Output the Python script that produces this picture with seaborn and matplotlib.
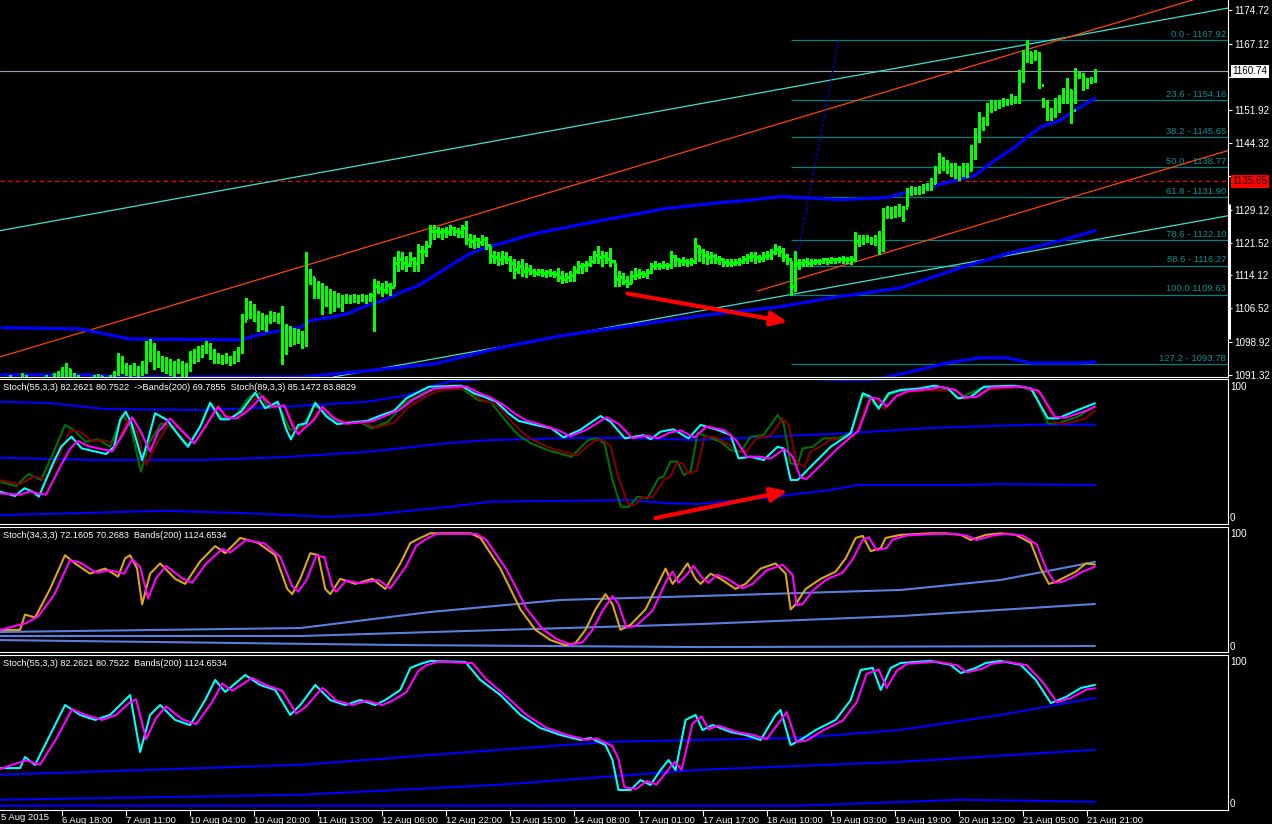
import matplotlib
matplotlib.use("Agg")
import matplotlib.pyplot as plt
import matplotlib.transforms as mtransforms
import seaborn as sns

sns.set_theme(style="dark", rc={"axes.facecolor": "black", "figure.facecolor": "black",
                                "axes.grid": False})
plt.rcParams["font.family"] = ["Liberation Sans", "DejaVu Sans"]

# ---------------- price bars (H1), one value per bar ----------------
bar_high = [
    1090.35, 1090.8, 1091.3, 1090.8, 1090.35, 1091.7, 1091.3, 1090.8, 1090.35, 1089.9,
    1090.6, 1091.3, 1090.8, 1091.7, 1092.2, 1093.1, 1094.0, 1092.6, 1091.7, 1091.3,
    1090.8, 1090.35, 1090.8, 1091.3, 1091.5, 1091.0, 1090.8, 1091.3, 1092.2, 1096.3,
    1095.6, 1094.0, 1093.6, 1094.0, 1093.3, 1094.5, 1099.1, 1099.5, 1098.6, 1096.8,
    1095.6, 1095.4, 1094.9, 1094.5, 1094.9, 1094.5, 1094.0, 1096.8, 1097.2, 1097.9,
    1098.1, 1099.1, 1098.6, 1097.2, 1096.3, 1095.9, 1096.3, 1095.6, 1096.8, 1097.7,
    1105.3, 1108.9, 1108.25, 1107.6, 1106.0, 1105.5, 1105.0, 1106.0, 1105.7, 1105.5,
    1107.1, 1103.0, 1102.5, 1102.1, 1101.8, 1101.4, 1119.3, 1115.6, 1113.5, 1112.8,
    1112.4, 1111.7, 1111.0, 1110.5, 1110.1, 1109.6, 1109.9, 1109.6, 1109.9, 1109.6,
    1109.9, 1109.6, 1110.1, 1113.3, 1112.8, 1112.4, 1112.8, 1112.4, 1118.35, 1119.7,
    1119.3, 1118.6, 1119.3, 1118.35, 1121.3, 1120.9, 1122.0, 1125.5, 1125.7, 1125.2,
    1124.8, 1125.2, 1125.7, 1125.2, 1124.8, 1125.5, 1126.6, 1123.6, 1123.2, 1122.7,
    1123.4, 1122.9, 1120.9, 1119.7, 1119.3, 1119.7, 1119.3, 1118.6, 1117.9, 1117.4,
    1117.9, 1117.0, 1116.5, 1115.6, 1115.6, 1115.6, 1115.4, 1115.6, 1115.1, 1115.8,
    1115.1, 1114.7, 1115.1, 1116.1, 1117.4, 1117.0, 1117.4, 1118.6, 1119.7, 1120.9,
    1119.7, 1119.3, 1120.4, 1117.0, 1115.1, 1114.7, 1114.0, 1115.1, 1115.8, 1115.6,
    1115.1, 1115.6, 1117.0, 1117.4, 1117.0, 1117.4, 1117.0, 1119.7, 1118.8, 1117.9,
    1118.35, 1117.9, 1118.1, 1122.7, 1120.9, 1120.2, 1119.7, 1119.3, 1119.0, 1118.6,
    1117.9, 1117.9, 1117.7, 1117.9, 1118.1, 1118.6, 1119.0, 1119.3, 1119.3, 1118.8,
    1119.3, 1119.7, 1120.2, 1121.3, 1120.9, 1120.4, 1119.0, 1117.4, 1119.7, 1117.9,
    1117.9, 1118.1, 1117.9, 1117.9, 1117.9, 1118.1, 1118.1, 1118.35, 1118.1, 1118.35,
    1118.6, 1118.35, 1118.6, 1123.9, 1123.4, 1123.2, 1123.4, 1122.9, 1123.2, 1124.3,
    1129.4, 1130.05, 1129.8, 1130.05, 1130.5, 1130.05, 1133.95, 1134.6, 1134.4, 1134.6,
    1134.9, 1135.1, 1136.25, 1139.2, 1142.0, 1141.1, 1140.4, 1139.9, 1139.7, 1139.2,
    1139.9, 1139.7, 1143.8, 1147.7, 1151.4, 1150.25, 1153.45, 1154.15, 1154.15, 1154.15,
    1154.6, 1154.4, 1155.5, 1155.1, 1161.0, 1165.6, 1167.92, 1165.2, 1165.6, 1165.2,
    1154.6, 1154.15, 1152.3, 1154.6, 1155.3, 1156.9, 1159.2, 1156.45, 1161.5, 1160.6,
    1160.35, 1159.2, 1159.4, 1161.2,
]
bar_low = [
    1087.6, 1088.1, 1088.5, 1088.1, 1087.6, 1088.75, 1088.5, 1088.1, 1087.6, 1087.1,
    1087.6, 1088.5, 1089.0, 1089.4, 1089.9, 1090.35, 1090.8, 1089.9, 1089.4, 1089.0,
    1088.5, 1088.1, 1088.5, 1089.0, 1089.4, 1089.0, 1088.5, 1089.0, 1089.9, 1091.3,
    1091.7, 1091.3, 1090.8, 1091.3, 1090.8, 1091.3, 1091.7, 1094.5, 1092.6, 1093.1,
    1092.2, 1091.7, 1091.3, 1091.0, 1091.7, 1090.8, 1091.0, 1092.2, 1094.0, 1094.5,
    1095.4, 1096.3, 1094.9, 1094.0, 1094.0, 1093.8, 1094.0, 1093.6, 1094.0, 1094.5,
    1096.3, 1104.1, 1104.4, 1103.7, 1101.4, 1101.8, 1101.4, 1103.2, 1103.7, 1103.2,
    1093.8, 1096.1, 1097.9, 1098.4, 1098.6, 1097.5, 1097.9, 1112.1, 1108.9, 1108.9,
    1105.3, 1107.1, 1105.5, 1106.0, 1106.9, 1106.0, 1107.8, 1107.8, 1108.0, 1107.8,
    1108.25, 1107.8, 1108.25, 1101.4, 1110.1, 1109.4, 1110.1, 1109.6, 1111.7, 1115.1,
    1115.6, 1115.1, 1116.1, 1115.1, 1115.1, 1117.0, 1118.6, 1121.3, 1122.5, 1122.9,
    1122.5, 1122.9, 1123.4, 1123.2, 1122.9, 1122.9, 1121.3, 1120.6, 1120.4, 1120.6,
    1121.1, 1120.2, 1117.0, 1117.0, 1116.5, 1116.7, 1117.0, 1115.1, 1113.5, 1114.7,
    1114.0, 1113.8, 1114.45, 1114.0, 1114.2, 1114.0, 1113.8, 1114.0, 1113.8, 1112.8,
    1112.4, 1112.6, 1112.8, 1112.8, 1114.7, 1114.7, 1115.1, 1116.1, 1117.0, 1117.0,
    1116.3, 1117.0, 1116.3, 1111.7, 1111.7, 1112.1, 1111.5, 1112.4, 1113.3, 1113.5,
    1113.8, 1113.5, 1114.7, 1115.6, 1115.6, 1115.8, 1115.6, 1115.8, 1116.1, 1116.3,
    1116.5, 1116.3, 1116.5, 1117.0, 1117.4, 1117.0, 1116.7, 1117.0, 1117.0, 1116.7,
    1116.3, 1116.1, 1116.3, 1116.5, 1116.5, 1117.0, 1117.0, 1117.4, 1117.0, 1117.2,
    1117.4, 1117.9, 1117.9, 1119.0, 1118.6, 1117.4, 1116.7, 1109.63, 1110.5, 1115.6,
    1116.1, 1116.1, 1116.1, 1116.7, 1116.7, 1117.0, 1116.7, 1117.0, 1117.0, 1117.2,
    1117.0, 1117.0, 1116.7, 1117.4, 1120.9, 1121.3, 1121.6, 1121.3, 1121.1, 1119.0,
    1119.7, 1127.1, 1127.3, 1127.5, 1127.7, 1126.6, 1130.05, 1132.35, 1132.6, 1132.8,
    1133.0, 1133.5, 1133.5, 1135.3, 1137.6, 1138.1, 1137.6, 1136.9, 1136.25, 1135.8,
    1136.9, 1136.5, 1138.1, 1140.8, 1144.5, 1147.3, 1148.4, 1151.4, 1151.85, 1152.3,
    1152.8, 1153.0, 1153.2, 1153.45, 1153.45, 1158.3, 1162.9, 1162.6, 1163.3, 1156.9,
    1152.5, 1149.6, 1149.6, 1150.25, 1151.4, 1153.45, 1153.45, 1148.9, 1153.45, 1159.2,
    1156.45, 1156.9, 1158.05, 1158.3,
]
bar_close = [
    1089.0, 1089.4, 1090.35, 1089.9, 1089.0, 1090.8, 1089.9, 1089.4, 1088.5, 1088.1,
    1089.4, 1090.35, 1089.9, 1090.8, 1091.3, 1092.2, 1092.6, 1091.3, 1090.8, 1090.35,
    1089.9, 1089.4, 1090.35, 1090.8, 1091.0, 1090.35, 1089.9, 1090.8, 1091.7, 1094.9,
    1093.1, 1092.6, 1092.2, 1093.1, 1092.2, 1093.6, 1096.8, 1097.9, 1095.6, 1094.5,
    1094.0, 1093.6, 1093.1, 1092.6, 1093.6, 1092.2, 1093.1, 1095.4, 1096.3, 1096.8,
    1097.2, 1097.7, 1096.8, 1095.6, 1095.2, 1094.9, 1095.4, 1094.7, 1095.9, 1096.8,
    1103.7, 1107.1, 1106.4, 1105.5, 1104.6, 1103.7, 1104.1, 1104.6, 1105.0, 1104.6,
    1097.9, 1101.4, 1100.2, 1100.9, 1100.0, 1099.1, 1115.1, 1113.8, 1111.7, 1110.5,
    1109.4, 1108.25, 1109.2, 1107.8, 1108.7, 1108.25, 1108.7, 1109.2, 1108.9, 1108.7,
    1109.2, 1108.9, 1109.6, 1111.7, 1111.2, 1110.8, 1111.9, 1111.5, 1117.0, 1117.9,
    1117.0, 1116.5, 1117.9, 1117.0, 1119.7, 1119.7, 1120.9, 1124.3, 1124.3, 1123.9,
    1124.3, 1123.9, 1124.8, 1124.3, 1123.9, 1124.8, 1122.5, 1122.0, 1122.5, 1121.6,
    1122.5, 1121.1, 1118.6, 1118.35, 1117.9, 1118.35, 1117.9, 1117.0, 1115.6, 1116.1,
    1115.1, 1115.6, 1115.1, 1114.7, 1115.1, 1114.7, 1114.9, 1114.7, 1114.45, 1113.8,
    1113.3, 1113.8, 1114.2, 1115.1, 1116.1, 1116.5, 1116.7, 1117.4, 1118.8, 1118.35,
    1118.6, 1117.9, 1117.4, 1113.3, 1113.8, 1112.8, 1112.4, 1114.0, 1114.2, 1114.7,
    1114.45, 1114.9, 1116.1, 1116.5, 1116.3, 1116.5, 1116.5, 1118.6, 1117.9, 1117.4,
    1117.4, 1117.2, 1117.4, 1120.9, 1119.7, 1118.8, 1118.35, 1118.6, 1117.9, 1117.9,
    1117.2, 1117.0, 1117.0, 1117.2, 1117.4, 1117.9, 1118.35, 1118.6, 1118.35, 1118.1,
    1118.6, 1118.8, 1119.3, 1120.2, 1119.7, 1118.6, 1117.9, 1111.7, 1117.0, 1117.0,
    1117.4, 1117.0, 1117.2, 1117.4, 1117.4, 1117.7, 1117.4, 1117.9, 1117.7, 1117.9,
    1117.9, 1117.7, 1117.9, 1122.0, 1122.5, 1122.5, 1122.7, 1122.0, 1122.0, 1120.9,
    1127.7, 1128.9, 1128.4, 1128.9, 1129.4, 1129.4, 1133.0, 1133.5, 1133.5, 1133.95,
    1133.95, 1134.4, 1135.3, 1138.1, 1139.2, 1139.9, 1138.5, 1139.0, 1137.6, 1138.1,
    1138.5, 1138.1, 1142.7, 1146.1, 1150.0, 1149.1, 1152.3, 1153.2, 1153.45, 1153.2,
    1153.7, 1153.9, 1154.6, 1154.15, 1159.9, 1164.5, 1165.2, 1164.25, 1164.7, 1157.6,
    1153.2, 1151.85, 1150.9, 1153.0, 1154.15, 1155.3, 1156.45, 1151.85, 1159.9, 1159.65,
    1158.7, 1158.3, 1158.7, 1160.74,
]

# moving averages on the price window (bar index, price)
ma_mid_x = [0, 19.5, 32, 59.5, 66, 74.5, 77, 83, 87, 91, 95, 99.5, 104, 108, 112, 116, 120,
            124.5, 133, 149.5, 166, 179.5, 186, 194.5, 210, 221, 228, 236, 243, 248, 253,
            256, 259.5, 264.5, 268, 273]
ma_mid_y = [1102.1, 1101.8, 1099.5, 1099.3, 1100.9, 1102.1, 1103.7, 1104.6, 1105.5, 1107.1,
            1108.25, 1110.1, 1111.7, 1114.0, 1116.3, 1118.6, 1120.2, 1121.3, 1123.6, 1126.6,
            1129.4, 1130.75, 1131.2, 1132.1, 1131.4, 1131.9, 1133.5, 1135.3, 1136.9, 1140.4,
            1143.4, 1145.7, 1148.0, 1149.6, 1151.85, 1154.6]
ma_low_x = [0, 20, 32, 74.5, 83, 91, 108, 124.5, 139.5, 162, 174.5, 194.5, 207, 224.5, 239.5,
            251, 264.5, 273]
ma_low_y = [1091.3, 1091.3, 1090.8, 1090.8, 1091.5, 1092.2, 1093.8, 1097.5, 1100.2, 1103.2,
            1104.8, 1106.9, 1108.9, 1111.2, 1115.8, 1119.0, 1122.0, 1124.3]
ma_env_x = [212, 221, 228, 236, 244.5, 251, 257, 269.5, 273]
ma_env_y = [1088.7, 1090.8, 1092.2, 1094.0, 1095.2, 1095.2, 1094.0, 1094.0, 1094.25]

# trend lines: (x0, x1), (p0, p1)
chan_up_x, chan_up_y = [-0.5, 306.5], [1124.3, 1175.3]
chan_dn_x, chan_dn_y = [82.75, 306.5], [1090.8, 1127.75]
red_up_x, red_up_y = [-0.5, 306.5], [1095.4, 1179.6]
red_dn_x, red_dn_y = [188.75, 306.5], [1110.5, 1142.7]
fib_trend_x, fib_trend_y = [197, 209], [1109.9, 1167.9]

fib_prices = [1167.92, 1154.16, 1145.65, 1138.77, 1131.90, 1122.10, 1116.27, 1109.63, 1093.78]
fib_labels = ["0.0 - 1167.92", "23.6 - 1154.16", "38.2 - 1145.65", "50.0 - 1138.77",
              "61.8 - 1131.90", "78.6 - 1122.10", "88.6 - 1116.27", "100.0 1109.63",
              "127.2 - 1093.78"]
fib_start = 197
last_price = 1160.74
alert_price = 1135.65

price_ticks = [1174.72, 1167.12, 1159.52, 1151.92, 1144.32, 1136.72, 1129.12, 1121.52,
               1114.12, 1106.52, 1098.92, 1091.32]
hidden_ticks = [1159.52, 1136.72]  # covered by the price boxes

time_idx = [15, 31, 47, 63, 79, 95, 111, 127, 143, 159, 175, 191, 207, 223, 239, 255, 271]
time_labels = ["6 Aug 18:00", "7 Aug 11:00", "10 Aug 04:00", "10 Aug 20:00", "11 Aug 13:00",
               "12 Aug 06:00", "12 Aug 22:00", "13 Aug 15:00", "14 Aug 08:00", "17 Aug 01:00",
               "17 Aug 17:00", "18 Aug 10:00", "19 Aug 03:00", "19 Aug 19:00", "20 Aug 12:00",
               "21 Aug 05:00", "21 Aug 21:00"]

# ---------------- window 2: Stoch(55) / Stoch(89) + bands ----------------
s89_x = [-0.5, 3.25, 5.6, 7.7, 9.2, 12.75, 14.75, 17.35, 19.9, 26, 28, 29.5, 30.9, 32.35, 35,
         36.45, 38.25, 41.25, 44.4, 46.45, 49.5, 52, 54.6, 56.65, 59.7, 63.25, 65.75, 68.9,
         70.9, 72.15, 74, 76, 78.25, 81.1, 83.7, 91.25, 94.9, 98, 101, 106.65, 114.75, 117.9,
         120.4, 123.5, 126.5, 129, 133.2, 137.25, 140.25, 144.4, 149.5, 152, 155.6, 160.25,
         162, 164.5, 167.75, 171.5, 174.5, 178.75, 182, 184, 187, 190.25, 193.75, 195.25, 197,
         198.75, 202, 207, 212, 215, 217, 219, 221.5, 224.5, 229.5, 232.75, 236.25, 238.75,
         242, 245.25, 252.75, 257, 261.25, 263.75, 268.75, 273]
s89_main = [19.3, 16, 21.9, 19.3, 15.5, 40.9, 53.5, 61.2, 52.3, 48, 53.5, 73.9, 80.2, 71.3,
            43.4, 58.6, 79, 73.9, 61.2, 53.5, 68.8, 87, 74.4, 74.4, 80.2, 94.7, 82.8, 87.8,
            67.5, 59.2, 70.1, 71.3, 87, 76.4, 70.8, 73.3, 77.7, 81, 90.4, 99.2, 100, 94.2,
            91.6, 87.8, 79, 73.3, 70.1, 67.5, 60.7, 66.3, 76.9, 72.6, 59.9, 62.4, 59.2, 65,
            66.8, 59.9, 70.1, 66.3, 62.4, 44.7, 45.9, 43.4, 53.5, 52.3, 28.2, 28.2, 38.3, 53.5,
            63.7, 94.2, 91.6, 82.8, 94.2, 96.7, 98, 100, 98, 90.4, 91.6, 99.2, 100, 98, 75.2,
            75.2, 81.5, 86.6]
s89_sig_x = [-0.5, 4.5, 7, 9, 11, 14.5, 17, 19, 21.5, 27.5, 30, 32.5, 34.5, 37, 39, 42, 45.5,
             48, 51, 54, 56, 58.5, 61.5, 65, 67.5, 70.5, 72.5, 74, 76, 78, 80, 83, 86, 92.5,
             96.5, 99.5, 102.5, 108, 116, 119.5, 122, 125, 128, 131, 135, 139, 142, 146, 151,
             154, 157.5, 161, 164, 166.5, 169.5, 173, 176, 180.5, 183.5, 186, 189, 192, 195.5,
             197.5, 199.5, 201, 204, 209, 214, 217, 219, 221, 223.5, 226.5, 231.5, 234.5, 238,
             240.5, 243.5, 247, 254.5, 259, 263, 265.5, 270.5, 273]
s89_sig = [18, 17, 19.5, 18, 17, 38, 52, 58, 54, 50, 62, 76, 66, 50, 65, 75, 64, 56, 70, 84,
           76, 75, 81, 92, 84, 85, 70, 63, 69, 74, 84, 75, 71, 73, 78, 82, 89, 98, 99.5, 94,
           91, 86, 79, 73.5, 70, 66, 61.5, 66.5, 76, 71, 60, 62, 60, 64, 66, 60.5, 69, 66, 58,
           46, 46, 44.5, 52, 46, 30, 29, 38, 53, 66, 91, 90, 84, 92.5, 96, 97.5, 99, 97, 91,
           91.5, 98.5, 99.5, 96, 76.5, 75.5, 80.5, 84]
s55_x = [-0.5, 3.5, 6.65, 9.7, 12.75, 15.75, 17.9, 20.9, 24, 27, 30.1, 32.15, 34.7, 36.75,
         39.75, 42.25, 46.45, 49.5, 52, 55.1, 58.2, 61.75, 64.25, 66.75, 68.9, 72, 75, 78,
         83.2, 89.25, 92.35, 96.45, 100.5, 106.65, 109.7, 114.75, 118.9, 122, 126, 129, 132.15,
         136.25, 142.25, 146.45, 148.5, 150.5, 152.5, 154.6, 156.65, 158.75, 161.25, 164,
         165.25, 167, 168.75, 170.25, 172, 173.75, 176.25, 179.5, 182, 184.5, 187, 190.25,
         193.75, 195.25, 197, 198.75, 200, 202.5, 205.25, 208.75, 212, 215, 217, 219, 221.5,
         224.5, 229.5, 237, 239, 244.5, 253.75, 257.75, 261.25, 263.75, 268.75, 273]
s55_main = [26.9, 23.6, 32.8, 28.2, 48.5, 70.1, 66.3, 57.3, 59.2, 53.5, 77.7, 68.8, 34.5,
            56.1, 71.3, 68.8, 54.8, 68.8, 86.6, 75.2, 76.4, 91.6, 94.2, 82.8, 86.6, 66.3, 68.8,
            85.3, 72.6, 72.6, 67.5, 72.6, 86.6, 96.7, 98, 98, 89, 87.8, 72.6, 62.4, 56.1, 51,
            45.9, 58.6, 59.9, 56.1, 28.2, 7.8, 7.8, 15.5, 14.2, 29.5, 30.7, 42.2, 42.2, 32.1,
            34.5, 63.9, 61.2, 57.3, 51, 49.7, 61.2, 62.4, 77.7, 71.3, 40.9, 39.6, 52.3, 53.5,
            59.9, 59.9, 63.7, 92.9, 90, 82, 93, 96, 97.3, 96.7, 90.4, 98, 100, 95.4, 71.3, 71.3,
            76.4, 84.5]
s55_sig_x = [-0.5, 4.5, 8, 11, 14, 17, 19.5, 22.5, 25.5, 28.5, 31.5, 33.5, 36, 38.5, 41.5, 44,
             48, 51, 53.5, 56.5, 59.5, 63, 65.5, 68, 70.5, 73.5, 76.5, 79.5, 84.5, 90.5, 93.5,
             98, 102, 108, 111, 116, 120, 123.5, 127.5, 130.5, 133.5, 137.5, 143.5, 148, 150,
             152, 154, 156.5, 158, 160, 162.5, 165.5, 167, 168.5, 170, 171.5, 173.5, 175.5, 178,
             181, 183.5, 186, 188.5, 192, 195, 196.5, 198.5, 200.5, 202, 204, 207, 210.5, 213.5,
             216.5, 218.5, 220.5, 223, 226, 231, 238.5, 240.5, 246, 255, 259.5, 263, 265.5,
             270.5, 273]
s55_sig = [28, 25, 31, 28.5, 45, 66, 65, 58, 58.5, 55, 74, 66, 40, 55, 70, 68, 56, 69, 84, 76,
           77, 90, 92, 83, 85, 67, 69, 83, 73, 72, 68, 72, 85, 95, 97, 97.5, 89, 86, 72, 63,
           57, 52, 47, 58, 59, 54, 30, 9, 9, 15, 15, 29, 31, 41, 41, 33, 35, 61, 61, 56, 51,
           50, 60, 62, 75, 70, 42, 38, 50, 53, 59, 59.5, 64, 89, 89, 82, 91, 95, 96.5, 96, 90,
           97, 99, 94, 72, 71, 75, 80.7]
b2_up_x = [-0.5, 11.75, 26, 50.5, 71, 91.25, 101.5, 106.75, 111.75, 124.5, 194.5, 209.5,
           216.25, 224.5, 273]
b2_up = [87.8, 86.8, 82.2, 81.4, 84, 87.8, 92.9, 99, 103.1, 106, 106, 104.3, 104.3, 106, 108]
b2_mid_x = [-0.5, 23, 50.5, 71, 91.25, 111.75, 122, 142.25, 157.5, 173.75, 190.25, 212, 232,
            248.75, 258.75, 273]
b2_mid = [45.2, 43.4, 43.4, 45.7, 49.7, 56.4, 58.6, 60.2, 60.2, 58.6, 60.9, 64, 67.8, 69.5,
          70.3, 70.3]
b2_lo_x = [-0.5, 20, 40.25, 60.75, 81.25, 91.25, 111.75, 122, 142.25, 157.5, 165.25, 173.75,
           190.25, 207, 213.75, 240.25, 248.75, 273]
b2_lo = [1.5, 3.0, 4.8, 3.0, 0.2, 1.5, 7.8, 11.7, 12.4, 12.9, 10.7, 9.9, 14.5, 20.6, 24.4,
         24.4, 25.1, 24.4]

# ---------------- window 3: Stoch(34,3,3) + bands ----------------
s34_x = [-0.5, 4.5, 5.75, 8.25, 12, 15.75, 18.25, 22, 25.75, 29, 30.75, 32, 33.75, 35, 37,
         39.5, 43.25, 45.75, 49.5, 53.25, 55.75, 59.5, 64, 68.25, 71.25, 72.5, 74.5, 77, 79,
         80.75, 82, 84.5, 88.25, 92.5, 95.75, 99.5, 102, 104.5, 107, 117, 119.5, 122, 124.5,
         127, 129.5, 133.25, 137, 140.75, 143.25, 145.75, 148.25, 150.75, 152.5, 154.5, 157,
         160.75, 164.5, 165.75, 167.5, 169.5, 171.25, 173.25, 174.5, 177, 179.5, 183.25,
         185.75, 189.5, 193.25, 195.75, 197, 198.25, 200.75, 204.5, 208.25, 210.75, 213.25,
         215, 217, 219.5, 220.75, 224.5, 232, 235.75, 239.5, 242, 245.75, 249.5, 253.25, 257,
         259.5, 261.5, 263.25, 265.75, 268.25, 270.75, 273]
s34_main = [14.1, 14.1, 27.7, 25, 50.5, 80.5, 73.2, 64.1, 68.6, 61.4, 77.7, 80.5, 68.6, 36.8,
            64.1, 73.2, 59.5, 55, 75, 88.6, 82.3, 95.9, 91.4, 80.5, 50.5, 45.9, 59.5, 82.3,
            80.5, 50.5, 45.9, 59.5, 55, 59.5, 50.5, 73.2, 91.4, 95.9, 100, 100, 95.9, 82.3,
            68.6, 50.5, 32.3, 14.1, 5, 0.5, 2.3, 14.1, 32.3, 45.9, 36.8, 14.1, 18.6, 32.3, 59.5,
            68.6, 55, 64.1, 73.2, 59.5, 55, 64.1, 59.5, 50.5, 55, 68.6, 73.2, 64.1, 32.3, 36.8,
            50.5, 59.5, 65.9, 77.7, 95.9, 97.7, 84.1, 86.8, 95.9, 98.6, 100, 100, 98.6, 94.1,
            98.6, 100, 98.6, 91.4, 68.6, 55, 56.8, 61.4, 65.9, 73.2, 72.2]
s34_sig_x = [-0.5, 6, 9, 13, 17, 19.5, 23.5, 27, 30.5, 32.5, 34.5, 36.5, 38.5, 41, 45, 47.5,
             51, 55, 57, 61, 65.5, 69.5, 72.5, 74, 76, 78.5, 80.5, 82.5, 83.5, 86, 89.5, 94,
             97, 101, 103.5, 106, 108.5, 118.5, 121, 123.5, 126, 128.5, 131, 135, 138.5, 142,
             145, 147.5, 150, 152.5, 154, 156, 158.5, 162.5, 166, 167.5, 169, 171, 172.75, 175,
             176.5, 178.5, 181, 185, 187.5, 191, 195, 197.5, 198.5, 200, 202.5, 206, 210, 212.5,
             215, 216.5, 218.5, 221, 222.5, 226, 233.5, 237.5, 241, 243.5, 247.5, 251, 255,
             258.5, 261, 263, 265, 267.5, 270, 273]
s34_sig = [14, 20, 26, 45, 76, 74, 65, 67, 64, 77, 70, 42, 60, 71, 60, 56, 73, 86, 83, 94,
           91, 79, 53, 48, 58, 80, 79, 53, 48, 58, 55.5, 58.5, 51, 71, 89, 95, 99.5, 99.5, 94,
           81, 68, 51, 33, 15, 6, 1, 3, 14, 31, 44, 37, 16, 18, 31, 58, 66, 56, 63, 71, 60, 56,
           63, 60, 51, 55, 67, 72, 63, 36, 37, 49, 59, 65, 77, 94, 96.5, 85, 87, 94.5, 98,
           99.5, 99.5, 98, 94, 98, 99.5, 98, 90, 67, 56, 57, 61, 66, 70.3]
b3_up_x = [-0.5, 74.5, 107, 139.5, 174.5, 224.5, 249.5, 273]
b3_up = [12.2, 15.7, 30, 40.7, 44.2, 49.6, 58.5, 74.5]
b3_mid_x = [-0.5, 74.5, 124.5, 174.5, 224.5, 273]
b3_mid = [8.6, 8.6, 14, 19.3, 26.4, 37.1]
b3_lo_x = [-0.5, 99.5, 174.5, 273]
b3_lo = [5, 0.6, -1.2, -0.3]

# ---------------- window 4: Stoch(55,3,3) + bands ----------------
s55b_x = [-0.5, 4.5, 5.75, 8.25, 12, 15.75, 19.5, 23.25, 27, 30.75, 32, 34.5, 37, 39.5, 43.25,
          47, 50.75, 53.25, 55.75, 60.75, 64.5, 68.25, 72, 74.5, 78.25, 79.5, 82, 85.75, 89.5,
          93.25, 95.75, 99.5, 102, 104.5, 107, 115.75, 119.5, 124.5, 129.5, 134.5, 139.5,
          144.5, 147, 150.75, 152.5, 154, 157, 159.5, 162, 164.5, 166.5, 168.25, 170.75,
          173.25, 175, 177.5, 182, 185.75, 189.5, 193.25, 194.5, 197, 199.5, 203.25, 208.25,
          212, 214.5, 217.5, 219.5, 222, 224.5, 232, 237, 239.5, 243.25, 245.75, 249.5, 254.5,
          258.25, 262, 265.75, 269.5, 273]
s55b_main = [24.6, 24.6, 32.4, 26.8, 47.9, 69, 62, 58.5, 62, 72.5, 76, 35.9, 62, 69, 58.5,
             54.9, 72.5, 86.6, 78.2, 90.1, 83.1, 79.6, 62, 69, 83.1, 79.6, 72.5, 69, 72.5, 69,
             72.5, 79.6, 95.1, 97.9, 100, 99.3, 86.6, 76, 62, 52.8, 47.9, 44.4, 45.8, 40.8,
             30.3, 9.2, 9.2, 16.2, 12.7, 23.2, 30.3, 23.2, 58.5, 62, 51.4, 54.9, 50, 47.9, 44.4,
             62, 65.5, 40.8, 44.4, 51.4, 58.5, 72.5, 93.7, 95.1, 79.6, 95.1, 98.6, 100, 97.2,
             91.5, 95.1, 98.6, 100, 97.2, 86.6, 70.4, 74.6, 81, 83.1]
s55b_sig_x = [-0.5, 6, 9.5, 13.5, 17.5, 21, 25, 28.5, 32, 33.5, 36, 38.5, 41, 45, 48.5, 52.5,
              55, 57.5, 62.5, 66, 70, 73.5, 76, 80, 81, 83.5, 87.5, 91, 95, 97.5, 101, 104,
              106, 109, 117.5, 121, 126, 131, 136, 141, 146, 148.5, 152.5, 154, 155.5, 158.5,
              161, 163.5, 166, 168, 169.75, 172.5, 174.75, 176.5, 179, 183.5, 187.5, 191, 195,
              196, 198.5, 201, 205, 210, 213.5, 216, 219, 221, 223.5, 226, 233.5, 238.5, 241,
              244.75, 247.25, 251, 256, 260, 263.5, 267, 271, 273]
s55b_sig = [24, 30, 27, 45, 66, 62, 58.5, 62, 71, 73, 45, 60, 68, 59, 55.5, 71, 84, 79, 88,
            83, 79, 63, 68, 81, 79, 72, 69, 72, 69, 72, 78, 93, 97, 99.5, 98.5, 87, 75, 62, 53,
            48, 44.5, 45.5, 40, 31, 11, 10, 15.5, 13, 22, 29, 23.5, 56, 61, 52, 54.5, 50, 48,
            45, 60, 64, 43, 44, 51, 58, 71, 91, 94, 81, 93, 98, 99.5, 97, 92, 94.5, 98, 99.5,
            97, 85, 71, 74, 80, 80.75]
b4_up_x = [-0.5, 74.5, 124.5, 152, 199.5, 224.5, 249.5, 273]
b4_up = [19.9, 26.9, 37.5, 43.1, 45.9, 51.5, 62, 74]
b4_mid_x = [-0.5, 74.5, 124.5, 174.5, 224.5, 273]
b4_mid = [2.3, 5.8, 12.9, 23.4, 29, 37.5]
b4_lo_x = [-0.5, 199.5, 239.5, 273]
b4_lo = [-1.9, -1.9, 2.3, 0.9]

# ================= drawing =================
W, H = 1272, 824
FS = 6.8      # general text
FS_Y = 7.1    # price scale
fig = plt.figure(figsize=(W / 100, H / 100), dpi=100, facecolor="black")


def win(top, bottom):
    return fig.add_axes([0, 1 - bottom / H, 1228 / W, (bottom - top) / H])


ax1 = win(0, 377)
ax2 = win(379, 524)
ax3 = win(527, 652)
ax4 = win(655, 810)
for ax in (ax1, ax2, ax3, ax4):
    ax.set_facecolor("black")
    ax.set_xlim(-0.5, 306.25)
    ax.spines["left"].set_visible(False)
    for s in ("top", "bottom", "right"):
        ax.spines[s].set_color("white")
        ax.spines[s].set_linewidth(0.8)
    ax.yaxis.tick_right()
    ax.tick_params(axis="y", direction="out", length=3, width=0.8, color="white",
                   labelcolor="white", labelsize=FS_Y, pad=1.5)
    ax.tick_params(axis="x", bottom=False, labelbottom=False)
    ax.grid(False)
ax1.spines["top"].set_visible(False)


def line(ax, xs, ys, color, lw=1.5, **kw):
    sns.lineplot(x=xs, y=ys, ax=ax, color=color, linewidth=lw, estimator=None, sort=False,
                 legend=False, **kw)


# ---- window 1: price ----
ax1.set_ylim(1090.8, 1177.1)
ax1.set_yticks(price_ticks)
ax1.set_yticklabels(["" if p in hidden_ticks else f"{p:.2f}" for p in price_ticks])

ax1.hlines(fib_prices, fib_start, 306.25, color="#008080", lw=0.9)
for p, lab in zip(fib_prices, fib_labels):
    ax1.annotate(lab, xy=(305.8, p), xytext=(0, 1.0), textcoords="offset points",
                 ha="right", va="bottom", color="#0a9090", fontsize=FS)
ax1.axhline(last_price, color="#9aa0b0", lw=0.8)
ax1.axhline(alert_price, color="#ff0000", lw=0.8, ls=(0, (4, 3)))

ax1.plot(chan_up_x, chan_up_y, color="#40e0d0", lw=0.9)
ax1.plot(chan_dn_x, chan_dn_y, color="#40e0d0", lw=0.9)
ax1.plot(red_up_x, red_up_y, color="#ff4500", lw=0.9)
ax1.plot(red_dn_x, red_dn_y, color="#ff4500", lw=0.9)
ax1.plot(fib_trend_x, fib_trend_y, color="#0000ff", lw=0.9, ls=(0, (2, 2)))

line(ax1, ma_low_x, ma_low_y, "#0000ff", lw=2.3)
line(ax1, ma_env_x, ma_env_y, "#0000ff", lw=2.3)
line(ax1, ma_mid_x, ma_mid_y, "#0000ff", lw=2.3)

idx = list(range(len(bar_close)))
bar_open = [bar_close[0]] + bar_close[:-1]
ax1.vlines(idx, bar_low, bar_high, color="#00ff00", lw=0.8, antialiased=False, zorder=3)
ax1.hlines(bar_open, [i - 0.3 for i in idx], idx, color="#00ff00", lw=0.8,
           antialiased=False, zorder=3)
ax1.hlines(bar_close, idx, [i + 0.3 for i in idx], color="#00ff00", lw=0.8,
           antialiased=False, zorder=3)

ax1.annotate("", xy=(196.25, 1103.4), xytext=(156.25, 1109.9),
             arrowprops=dict(arrowstyle="-|>,head_length=0.7,head_width=0.3", color="#ff0000",
                             lw=3, shrinkA=0, shrinkB=0, mutation_scale=14), zorder=6)

right = mtransforms.blended_transform_factory(ax1.transAxes, ax1.transData)
ax1.text(1.0035, last_price, f"{last_price:.2f}", transform=right, ha="left", va="center",
         color="black", fontsize=FS_Y, zorder=10, clip_on=False,
         bbox=dict(boxstyle="square,pad=0.15", fc="white", ec="none"))
ax1.text(1.0035, alert_price, f"{alert_price:.2f}", transform=right, ha="left", va="center",
         color="#200000", fontsize=FS_Y, zorder=10, clip_on=False,
         bbox=dict(boxstyle="square,pad=0.15", fc="#ff0000", ec="none"))
ax1.plot([1.0008, 1.0008], [1099.5, 1130.5], transform=right, color="white", lw=2.2,
         clip_on=False, solid_capstyle="butt", zorder=9)

# ---- window 2 ----
ax2.set_ylim(-5.3, 105.1)
ax2.set_yticks([100, 0])
ax2.set_yticklabels(["100", "0"])
ax2.tick_params(axis="y", length=0)
line(ax2, b2_up_x, b2_up, "#0000ff")
line(ax2, b2_mid_x, b2_mid, "#0000ff")
line(ax2, b2_lo_x, b2_lo, "#0000ff")
line(ax2, s55_x, s55_main, "#007000")
line(ax2, s55_sig_x, s55_sig, "#800000")
line(ax2, s89_x, s89_main, "#00ffff")
line(ax2, s89_sig_x, s89_sig, "#ff00ff")
ax2.annotate("", xy=(196.25, 19.8), xytext=(163.25, -0.8),
             arrowprops=dict(arrowstyle="-|>,head_length=0.7,head_width=0.3", color="#ff0000",
                             lw=3, shrinkA=0, shrinkB=0, mutation_scale=14), zorder=6)

# ---- window 3 ----
ax3.set_ylim(-5.6, 105.6)
ax3.set_yticks([100, 0])
ax3.set_yticklabels(["100", "0"])
ax3.tick_params(axis="y", length=0)
line(ax3, b3_up_x, b3_up, "#5a7fe0")
line(ax3, b3_mid_x, b3_mid, "#5a7fe0")
line(ax3, b3_lo_x, b3_lo, "#5a7fe0")
line(ax3, s34_x, s34_main, "#daa520")
line(ax3, s34_sig_x, s34_sig, "#ff00ff")

# ---- window 4 ----
ax4.set_ylim(-4.9, 104.2)
ax4.set_yticks([100, 0])
ax4.set_yticklabels(["100", "0"])
ax4.tick_params(axis="y", length=0)
line(ax4, b4_up_x, b4_up, "#0000ff")
line(ax4, b4_mid_x, b4_mid, "#0000ff")
line(ax4, b4_lo_x, b4_lo, "#0000ff")
line(ax4, s55b_x, s55b_main, "#00ffff")
line(ax4, s55b_sig_x, s55b_sig, "#ff00ff")

ax4.set_xticks(time_idx)
ax4.set_xticklabels(time_labels, ha="left")
ax4.tick_params(axis="x", bottom=True, labelbottom=True, direction="out", length=4, width=0.8,
                color="white", labelcolor="white", labelsize=FS, pad=0.5)
fig.text(1 / W, 1 - 817 / H, "5 Aug 2015", color="white", fontsize=FS, va="center", ha="left")

# indicator captions
fig.text(3 / W, 1 - 388 / H,
         "Stoch(55,3,3) 82.2621 80.7522  ->Bands(200) 69.7855  Stoch(89,3,3) 85.1472 83.8829",
         color="white", fontsize=6.6, va="center")
fig.text(3 / W, 1 - 535 / H, "Stoch(34,3,3) 72.1605 70.2683  Bands(200) 1124.6534",
         color="white", fontsize=6.6, va="center")
fig.text(3 / W, 1 - 664 / H, "Stoch(55,3,3) 82.2621 80.7522  Bands(200) 1124.6534",
         color="white", fontsize=6.6, va="center")

fig.savefig("out.png", dpi=100, facecolor="black")
